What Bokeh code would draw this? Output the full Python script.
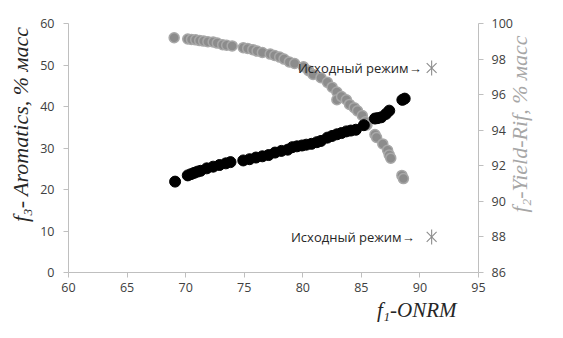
import math
from bokeh.plotting import figure
from bokeh.models import Range1d, LinearAxis, FixedTicker, Title
from bokeh.embed import file_html
from bokeh.resources import INLINE
from bokeh.core.properties import value

# f1-ONRM vs f3-Aromatics (left axis)
onrm_arom = [69.1, 70.18, 70.45, 70.72, 71.0, 71.27, 71.8, 72.35, 72.89, 73.43, 73.83,
             74.92, 75.46, 76.0, 76.55, 77.08, 77.63, 78.17, 78.71, 79.11, 79.5, 79.93,
             80.3, 80.74, 81.2, 81.55, 82.1, 82.5, 82.91, 83.3, 83.72, 84.1, 84.53,
             85.21, 86.16, 86.4, 86.7, 87.1, 87.38, 88.5, 88.7]
aromatics = [21.9, 23.4, 23.7, 24.0, 24.3, 24.5, 25.1, 25.5, 25.9, 26.3, 26.6,
             27.0, 27.3, 27.7, 28.0, 28.3, 28.9, 29.3, 29.6, 30.2, 30.4, 30.6,
             30.8, 31.0, 31.4, 31.7, 32.5, 32.9, 33.3, 33.6, 34.0, 34.2, 34.4,
             35.5, 37.1, 37.2, 37.4, 38.2, 39.0, 41.6, 41.9]

# f1-ONRM vs f2-Yield-Rif (right axis)
onrm_yield = [69.02, 70.18, 70.5, 70.86, 71.2, 71.54, 71.9, 72.35, 72.7, 73.16, 73.5,
              73.97, 74.92, 75.3, 75.73, 76.1, 76.55, 77.22, 77.6, 78.03, 78.4, 78.85,
              79.3, 80.06, 80.5, 80.88, 81.55, 82.1, 82.5, 82.91, 82.91, 83.31, 83.72,
              83.99, 84.39, 84.67, 85.08, 85.35, 85.48, 86.16, 86.3, 86.83, 87.24,
              87.38, 87.51, 88.46, 88.59]
yield_rif = [99.2, 99.13, 99.1, 99.08, 99.04, 99.01, 98.98, 98.96, 98.9, 98.81, 98.78,
             98.74, 98.64, 98.6, 98.53, 98.45, 98.37, 98.28, 98.2, 98.11, 98.0, 97.84,
             97.75, 97.57, 97.35, 97.13, 96.95, 96.69, 96.42, 96.15, 95.71, 95.89, 95.71,
             95.45, 95.27, 95.09, 94.83, 94.47, 94.29, 93.76, 93.59, 93.23, 92.87,
             92.61, 92.43, 91.46, 91.28]

# initial regime points (right axis units)
init_onrm = [91.0, 91.0]
init_yield = [97.5, 88.0]
init_label = ["Исходный режим→", "Исходный режим→"]

x_ticks = [60, 65, 70, 75, 80, 85, 90, 95]
left_ticks = [0, 10, 20, 30, 40, 50, 60]
right_ticks = [86, 88, 90, 92, 94, 96, 98, 100]

x_title = "f₁-ONRM"
left_title = "f₃- Aromatics, % масс"
right_title = "f₂-Yield-Rif, % масс"
right_title_at = 93.3

AX = "#bfbfbf"
TK = "#404040"
SERIF = "Liberation Serif"

p = figure(width=547, height=322, output_backend="svg", toolbar_location=None,
           x_range=Range1d(60, 95), y_range=Range1d(0, 60),
           min_border_left=68, min_border_right=58, min_border_top=23, min_border_bottom=46)
p.extra_y_ranges = {"yr": Range1d(86, 100)}
p.outline_line_color = None
p.xgrid.visible = False
p.ygrid.visible = False
p.background_fill_color = "white"
p.border_fill_color = "white"

def style_axis(ax, ticks, standoff):
    ax.ticker = FixedTicker(ticks=ticks)
    ax.axis_line_color = AX
    ax.major_tick_line_color = AX
    ax.minor_tick_line_color = None
    ax.major_tick_out = 5
    ax.major_tick_in = 0
    ax.major_label_standoff = standoff
    ax.major_label_text_font = "Open Sans"
    ax.major_label_text_font_size = "12.5px"
    ax.major_label_text_color = TK

style_axis(p.xaxis[0], x_ticks, 5)
style_axis(p.yaxis[0], left_ticks, 9)
ry = LinearAxis(y_range_name="yr")
style_axis(ry, right_ticks, 8)
p.add_layout(ry, "right")

# right title drawn as a rotated single tick label of a bare axis
rt = LinearAxis(y_range_name="yr", ticker=FixedTicker(ticks=[right_title_at]),
                major_label_overrides={right_title_at: right_title},
                major_label_orientation=math.pi / 2, major_label_standoff=4,
                axis_line_color=None, major_tick_line_color=None, minor_tick_line_color=None,
                major_tick_out=0, major_tick_in=0,
                major_label_text_font=SERIF, major_label_text_font_style="italic",
                major_label_text_font_size="22px", major_label_text_color="#a6a6a6")
p.add_layout(rt, "right")

lt = Title(text=left_title, align="right", offset=3, standoff=10, text_font=SERIF,
           text_font_style="italic", text_font_size="22px", text_color="#262626")
p.add_layout(lt, "left")

xt = Title(text=x_title, align="right", offset=22, standoff=2, text_font=SERIF,
           text_font_style="italic", text_font_size="21px", text_color="#262626")
p.add_layout(xt, "below")

p.scatter(onrm_yield, yield_rif, y_range_name="yr", size=10, fill_color="#8c8c8c",
          line_color="#a8a8a8", line_width=1.5)
p.scatter(onrm_arom, aromatics, size=11, fill_color="black", line_color="black")

p.scatter(init_onrm, init_yield, y_range_name="yr", marker="x", size=14,
          line_color="#8c8c8c", line_width=1.1)
p.scatter(init_onrm, init_yield, y_range_name="yr", marker="dash", size=15,
          angle=math.pi / 2, line_color="#8c8c8c", line_width=1.1)
p.text([init_onrm[0]], [init_yield[0]], text=[init_label[0]], y_range_name="yr",
       x_offset=-10, text_align="right", text_baseline="middle",
       text_font_size="13px", text_color="#262626", text_font=value("Open Sans"))
p.text([init_onrm[1]], [init_yield[1]], text=[init_label[1]], y_range_name="yr",
       x_offset=-17, text_align="right", text_baseline="middle",
       text_font_size="13px", text_color="#262626", text_font=value("Open Sans"))

open("out.html", "w").write(file_html(p, INLINE))
